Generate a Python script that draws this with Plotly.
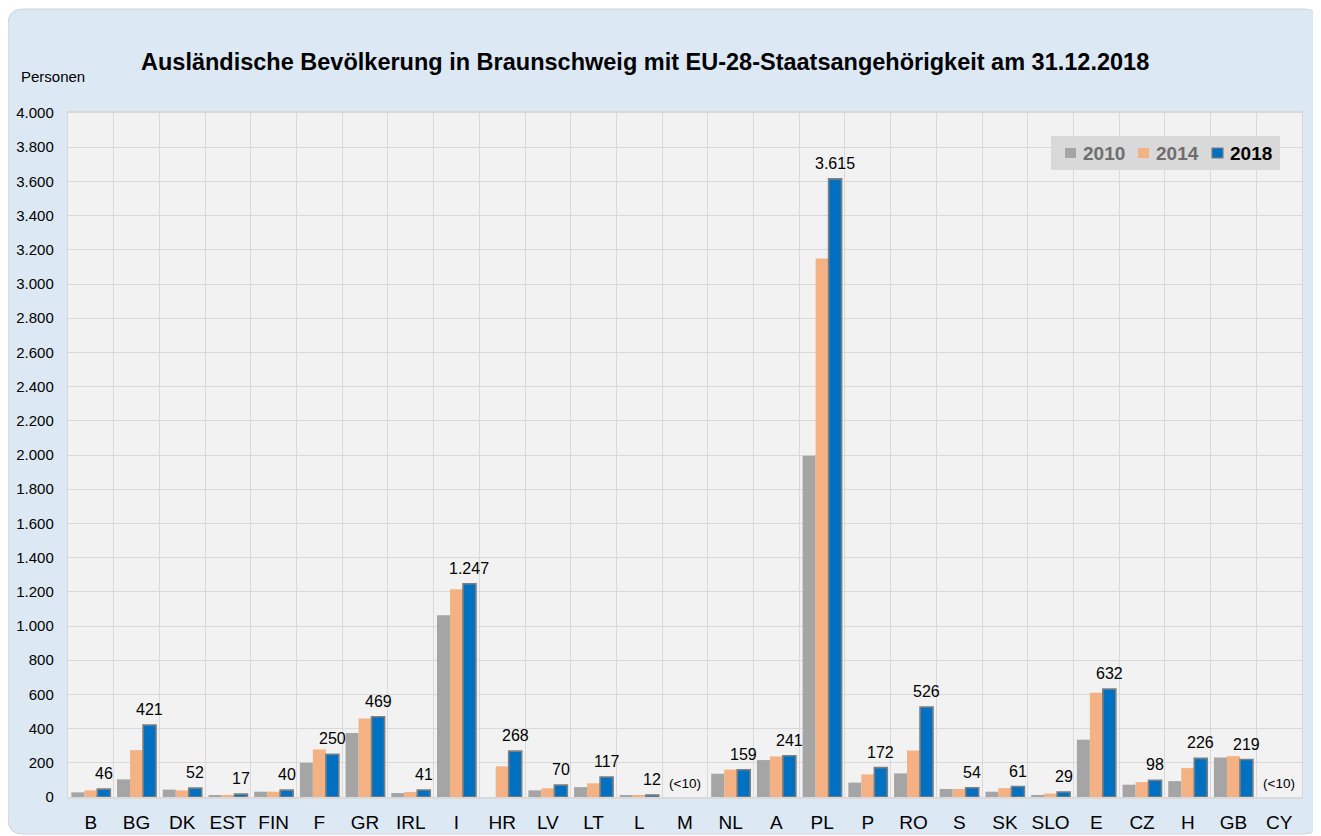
import plotly.graph_objects as go

categories = ["B", "BG", "DK", "EST", "FIN", "F", "GR", "IRL", "I", "HR", "LV", "LT", "L", "M",
              "NL", "A", "PL", "P", "RO", "S", "SK", "SLO", "E", "CZ", "H", "GB", "CY"]
v2010 = [27, 103, 43, 10, 31, 200, 375, 23, 1063, None, 39, 58, 6, None,
         136, 216, 1996, 84, 138, 47, 31, 12, 335, 72, 93, 231, None]
v2014 = [39, 274, 39, 8, 31, 278, 459, 29, 1215, 179, 51, 80, 7, None,
         160, 237, 3149, 132, 272, 47, 52, 20, 610, 87, 169, 239, None]
v2018 = [46, 421, 52, 17, 40, 250, 469, 41, 1247, 268, 70, 117, 12, None,
         159, 241, 3615, 172, 526, 54, 61, 29, 632, 98, 226, 219, None]
series_names = ["2010", "2014", "2018"]
series_colors = ["#a5a5a5", "#f4b183", "#0070c0"]
legend_text_colors = ["#6e6e6e", "#6e6e6e", "#000000"]
small_label = "(<10)"

FONT = "Liberation Sans, Arial, sans-serif"
OFF = 8  # page body margin
W, H = 1321 - OFF, 836 - OFF
# plot area in screen pixels
SL, SR, ST, SB = 68, 1302, 113, 797
PL, PR, PT, PB = SL - OFF, SR - OFF, ST - OFF, SB - OFF


def px_x(px):
    return (px - OFF - PL) / (PR - PL)


def px_y(py):
    return (PB - (py - OFF)) / (PB - PT)


def rounded_rect(x0, y0, x1, y1, r):
    X, Y = px_x, px_y
    return (f"M {X(x0 + r)},{Y(y0)} L {X(x1 - r)},{Y(y0)} Q {X(x1)},{Y(y0)} {X(x1)},{Y(y0 + r)} "
            f"L {X(x1)},{Y(y1 - r)} Q {X(x1)},{Y(y1)} {X(x1 - r)},{Y(y1)} "
            f"L {X(x0 + r)},{Y(y1)} Q {X(x0)},{Y(y1)} {X(x0)},{Y(y1 - r)} "
            f"L {X(x0)},{Y(y0 + r)} Q {X(x0)},{Y(y0)} {X(x0 + r)},{Y(y0)} Z")


fig = go.Figure()
for name, vals, col in zip(series_names, [v2010, v2014, v2018], series_colors):
    line = dict(width=1.6, color="#7f7f7f") if name == "2018" else dict(width=0)
    fig.add_trace(go.Bar(x=categories, y=vals, name=name, marker=dict(color=col, line=line)))

annotations = []
for c, v in zip(categories, v2018):
    if v is None:
        annotations.append(dict(x=c, y=0, text=small_label, showarrow=False, xref="x", yref="y",
                                yanchor="bottom", yshift=4, font=dict(size=13.5, color="#000", family=FONT)))
    else:
        annotations.append(dict(x=c, y=v, text=f"{v:,}".replace(",", "."), showarrow=False,
                                xref="x", yref="y", xshift=13, yanchor="bottom", yshift=5,
                                font=dict(size=16, color="#000", family=FONT)))

annotations.append(dict(x=px_x(19), y=px_y(76), xref="paper", yref="paper", xanchor="left",
                        yanchor="middle", text="Personen", showarrow=False,
                        font=dict(size=15, color="#000", family=FONT)))
annotations.append(dict(x=px_x(645), y=px_y(62), xref="paper", yref="paper", xanchor="center",
                        yanchor="middle", showarrow=False,
                        text="<b>Ausländische Bevölkerung in Braunschweig mit EU-28-Staatsangehörigkeit am 31.12.2018</b>",
                        font=dict(size=23.5, color="#000", family=FONT)))

shapes = [
    dict(type="path", xref="paper", yref="paper", layer="below",
         path=rounded_rect(8, 9, 1319, 834, 15),
         fillcolor="#dde8f5", line=dict(color="#cfd3d8", width=1)),
    dict(type="rect", xref="paper", yref="paper", layer="below", x0=0, x1=1, y0=0, y1=1,
         fillcolor="#f2f2f2", line=dict(width=0)),
    # legend box
    dict(type="rect", xref="paper", yref="paper", layer="above",
         x0=px_x(1051), x1=px_x(1280), y0=px_y(170), y1=px_y(136),
         fillcolor="#d9d9d9", line=dict(width=0)),
]

legend_sq_x = [1065, 1138, 1212]
legend_txt_x = [1081, 1154, 1228]
for i, name in enumerate(series_names):
    sx = legend_sq_x[i]
    shapes.append(dict(type="rect", xref="paper", yref="paper", layer="above",
                       x0=px_x(sx), x1=px_x(sx + 11), y0=px_y(158), y1=px_y(148),
                       fillcolor=series_colors[i],
                       line=dict(width=1.2 if name == "2018" else 0, color="#7f7f7f")))
    annotations.append(dict(x=px_x(legend_txt_x[i]), y=px_y(153), xref="paper", yref="paper",
                            xanchor="left", yanchor="middle", showarrow=False,
                            text=f"<b>{name}</b>",
                            font=dict(size=19, color=legend_text_colors[i], family=FONT)))

fig.update_layout(
    width=W, height=H,
    margin=dict(l=PL, r=W - PR, t=PT, b=H - PB, autoexpand=False),
    paper_bgcolor="white",
    plot_bgcolor="#f2f2f2",
    separators=",.",
    barmode="group", bargap=0.147, bargroupgap=0,
    font=dict(family=FONT, color="#000"),
    showlegend=False,
    xaxis=dict(type="category", tickson="boundaries", showgrid=True, gridcolor="#d9d9d9", gridwidth=1.4,
               showline=True, linecolor="#d9d9d9", linewidth=2, mirror=True, automargin=False,
               tickangle=0, ticks="", ticklabelstandoff=7,
               tickfont=dict(size=19, color="#000", family=FONT)),
    yaxis=dict(range=[0, 4000], dtick=200, tickformat=",d", showgrid=True, gridcolor="#d9d9d9",
               gridwidth=1.4, showline=True, linecolor="#d9d9d9", linewidth=1.4, mirror=True,
               zeroline=False, ticks="outside", ticklen=10, tickcolor="rgba(0,0,0,0)", automargin=False,
               tickfont=dict(size=15, color="#000", family=FONT)),
    annotations=annotations,
    shapes=shapes,
)

fig.write_html("out.html")
